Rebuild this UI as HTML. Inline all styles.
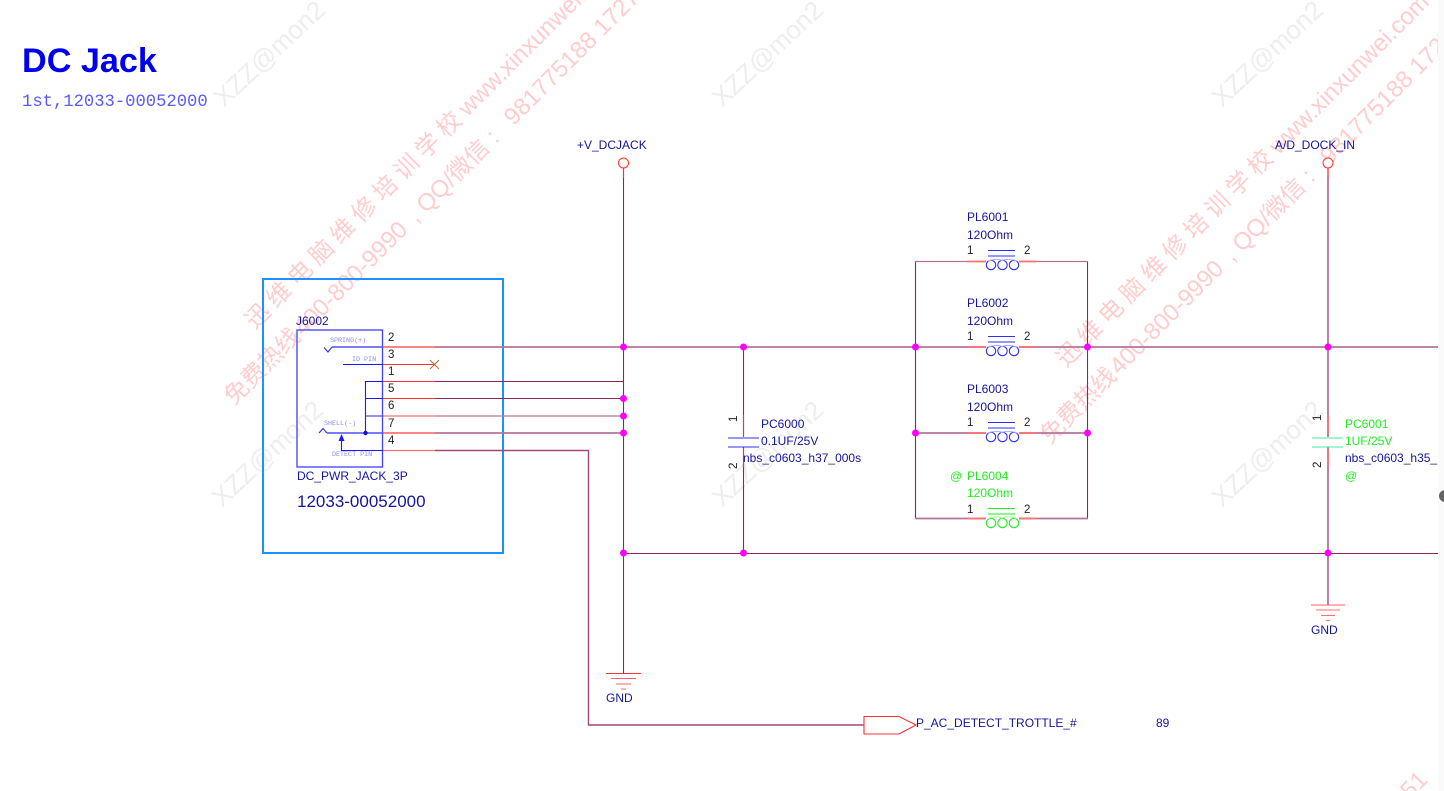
<!DOCTYPE html>
<html><head><meta charset="utf-8">
<style>
html,body{margin:0;padding:0;background:#fff;width:1444px;height:791px;overflow:hidden}
svg{display:block}
text{font-family:"Liberation Sans","Noto Sans CJK SC",sans-serif;white-space:pre}
.l{font-size:12px;fill:#14149e}
.k{font-size:11.5px;fill:#222}
.g{font-size:12px;fill:#22ee22}
.m{font-family:"Liberation Mono",monospace;font-size:6.7px;fill:#8a8aff}
.wg{font-size:26px;fill:#eeeeee}
.wr{font-size:24px;fill:#ffcdcd}
.d{stroke:#8b2560;stroke-width:1.1;fill:none}
.p{stroke:#b4749a;stroke-width:1.8;fill:none}
.r{stroke:#ff3030;stroke-width:1.1;fill:none}
.rp{stroke:#ff7272;stroke-width:1.7;fill:none}
.b{stroke:#1a1aee;stroke-width:1.1;fill:none}
.bp{stroke:#5050f5;stroke-width:1.6;fill:none}
.gr{stroke:#22ee22;stroke-width:1.1;fill:none}
.c{stroke:#2f2ff0;stroke-width:1.1;fill:none}
</style></head><body>
<svg width="1444" height="791" viewBox="0 0 1444 791" xmlns="http://www.w3.org/2000/svg">
<rect width="1444" height="791" fill="#fff"/>

<!-- grey watermarks -->
<text class="wg" transform="translate(224,108) rotate(-43)">XZZ@mon2</text>
<text class="wg" transform="translate(722,108) rotate(-43)">XZZ@mon2</text>
<text class="wg" transform="translate(1222,108) rotate(-43)">XZZ@mon2</text>
<text class="wg" transform="translate(222,508) rotate(-43)">XZZ@mon2</text>
<text class="wg" transform="translate(722,508) rotate(-43)">XZZ@mon2</text>
<text class="wg" transform="translate(1222,508) rotate(-43)">XZZ@mon2</text>

<!-- red watermarks -->
<text class="wr" style="word-spacing:-.6px" transform="translate(255,330) rotate(-45)">迅 维 电 脑 维 修 培 训 学 校 www.xinxunwei.com</text>
<text class="wr" transform="translate(234,406) rotate(-45)">免费热线<tspan dx="2">400-800-9990</tspan><tspan dx="4"> , QQ/微信 :</tspan><tspan dx="12"> 981775188 1727</tspan></text>
<text class="wr" style="word-spacing:-.6px" transform="translate(1066,368) rotate(-45)">迅 维 电 脑 维 修 培 训 学 校 www.xinxunwei.com</text>
<text class="wr" transform="translate(1050,445) rotate(-45)">免费热线<tspan dx="2">400-800-9990</tspan><tspan dx="4"> , QQ/微信 :</tspan><tspan dx="12"> 981775188 1727</tspan></text>
<text class="wr" transform="translate(1410,800) rotate(-45)">51</text>

<!-- title -->
<text x="22" y="72" style="font-size:34.2px;font-weight:bold;fill:#0000ee">DC Jack</text>
<text x="22" y="106" style="font-family:'Liberation Mono',monospace;font-size:17.2px;fill:#5a5aff">1st,12033-00052000</text>

<!-- blue frame -->
<rect x="263" y="279" width="240" height="274" fill="none" stroke="#1e90ff" stroke-width="2"/>

<!-- wires -->
<path class="p" d="M435 347H1438"/>
<path class="d" d="M435 381.500H623.500V673"/>
<path class="d" d="M435 398.500H623"/>
<path class="p" d="M435 416H623" style="stroke-width:1.3"/>
<path class="p" d="M435 433H623"/>
<path class="d" d="M435 450.500H588.500V725H864" style="stroke:#a04a7c;stroke-width:1.4"/>
<path class="d" d="M623.500 168V381"/>
<path class="d" d="M623.500 553.500H1438"/>
<path class="d" d="M743.500 347V437"/>
<path class="d" d="M743.500 447V553"/>
<path class="d" d="M915.500 261V518.500"/>
<path class="d" d="M1087.500 261V518.500"/>
<path class="p" d="M915 261.500H1088" style="stroke-width:1.3"/>
<path class="p" d="M915 433H1088"/>
<path class="p" d="M915 518.500H1088"/>
<path class="p" d="M1328 168V437"/>
<path class="p" d="M1328 447V605"/>

<!-- red pin stubs -->
<path class="rp" d="M383 347H435"/>
<path class="r" d="M383 364.500H435"/>
<path class="r" d="M383 381.500H435"/>
<path class="r" d="M383 398.500H435"/>
<path class="rp" d="M383 416H435" style="stroke-width:1.3"/>
<path class="rp" d="M383 433H435"/>
<path class="rp" d="M383 450.500H435" style="stroke-width:1.3"/>
<path d="M430 360L439 369M439 360L430 369" stroke="#b5702a" fill="none"/>

<!-- connector symbol -->
<rect x="297" y="330" width="85.500" height="137" fill="none" stroke="#4040f5" stroke-width="1.3"/>
<path class="bp" d="M332 347H383"/>
<path class="c" d="M324 347.500L328 352L332 347"/>
<path class="b" d="M343 364.500H383"/>
<path class="b" d="M383 381.500H365.500V433"/>
<path class="b" d="M365.500 398.500H383"/>
<path class="bp" d="M365.500 416H383" style="stroke-width:1.2"/>
<path class="bp" d="M327 433H383"/>
<path class="c" d="M319 433L323 428.500L327 433"/>
<path class="b" d="M383 450.500H341.500V438"/>
<path d="M341.500 434L338.500 441H344.500Z" fill="#1a1aee"/>
<circle cx="365.500" cy="433" r="2.200" fill="#1010dd"/>
<text class="m" x="330" y="342">SPRING(+)</text>
<text class="m" x="352" y="361">ID PIN</text>
<text class="m" x="324" y="425">SHELL(-)</text>
<text class="m" x="332" y="456">DETECT PIN</text>
<text class="k" x="388" y="341">2</text>
<text class="k" x="388" y="358">3</text>
<text class="k" x="388" y="375">1</text>
<text class="k" x="388" y="392">5</text>
<text class="k" x="388" y="409">6</text>
<text class="k" x="388" y="427">7</text>
<text class="k" x="388" y="444">4</text>
<text class="l" x="296" y="325">J6002</text>
<text class="l" x="297" y="480">DC_PWR_JACK_3P</text>
<text class="l" x="297" y="507" style="font-size:17px">12033-00052000</text>

<!-- power ports -->
<circle cx="623.500" cy="163" r="5" fill="#fff" stroke="#ff3030"/>
<circle cx="1328" cy="163" r="5" fill="#fff" stroke="#ff3030"/>
<path class="r" d="M623.500 168V178"/>
<path class="rp" d="M1328 168V178"/>
<text class="l" x="577" y="149">+V_DCJACK</text>
<text class="l" x="1275" y="149">A/D_DOCK_IN</text>

<!-- inductor pins -->
<path class="rp" d="M967 261.500H986M1019 261.500H1036"/>
<path class="rp" d="M967 347H986M1019 347H1036"/>
<path class="rp" d="M967 433H986M1019 433H1036"/>
<path class="rp" d="M967 518.500H986M1019 518.500H1036"/>
<!-- gaps under coils -->
<rect x="986" y="259" width="33" height="5" fill="#fff"/>
<rect x="986" y="344.500" width="33" height="5" fill="#fff"/>
<rect x="986" y="430.500" width="33" height="5" fill="#fff"/>
<rect x="986" y="516" width="33" height="5" fill="#fff"/>

<path class="c" d="M988 250.500H1015M988 256H1015"/>
<g fill="none" stroke="#3030f0" stroke-width="1.1"><circle cx="991" cy="265" r="4.700"/><circle cx="1002.500" cy="265" r="4.700"/><circle cx="1014" cy="265" r="4.700"/></g>
<path d="M988 261Q997 258 1002 260.500Q1008 258 1017 261" fill="none" stroke="#b0b0ff"/>
<path class="c" d="M988 336.500H1015M988 342H1015"/>
<g fill="none" stroke="#3030f0" stroke-width="1.1"><circle cx="991" cy="351" r="4.700"/><circle cx="1002.500" cy="351" r="4.700"/><circle cx="1014" cy="351" r="4.700"/></g>
<path d="M988 347Q997 344 1002 346.500Q1008 344 1017 347" fill="none" stroke="#b0b0ff"/>
<path class="c" d="M988 422.500H1015M988 428H1015"/>
<g fill="none" stroke="#3030f0" stroke-width="1.1"><circle cx="991" cy="437" r="4.700"/><circle cx="1002.500" cy="437" r="4.700"/><circle cx="1014" cy="437" r="4.700"/></g>
<path d="M988 433Q997 430 1002 432.500Q1008 430 1017 433" fill="none" stroke="#b0b0ff"/>
<path class="gr" d="M988 508.500H1015M988 514H1015"/>
<g fill="none" stroke="#22ee22" stroke-width="1.1"><circle cx="991" cy="523" r="4.700"/><circle cx="1002.500" cy="523" r="4.700"/><circle cx="1014" cy="523" r="4.700"/></g>
<path d="M988 518.500Q997 515.500 1002 518Q1008 515.500 1017 518.500" fill="none" stroke="#a8f5a8"/>

<text class="l" x="967" y="221">PL6001</text>
<text class="l" x="967" y="239">120Ohm</text>
<text class="k" x="967" y="254">1</text><text class="k" x="1024" y="254">2</text>
<text class="l" x="967" y="307">PL6002</text>
<text class="l" x="967" y="325">120Ohm</text>
<text class="k" x="967" y="340">1</text><text class="k" x="1024" y="340">2</text>
<text class="l" x="967" y="393">PL6003</text>
<text class="l" x="967" y="411">120Ohm</text>
<text class="k" x="967" y="426">1</text><text class="k" x="1024" y="426">2</text>
<text class="g" x="950" y="480">@</text>
<text class="g" x="967" y="480">PL6004</text>
<text class="g" x="967" y="497">120Ohm</text>
<text class="k" x="967" y="513">1</text><text class="k" x="1024" y="513">2</text>

<!-- caps -->
<path class="r" d="M743.500 415V437M743.500 448V467"/>
<path class="c" d="M728 438H759M728 447H759"/>
<text class="k" transform="translate(737,422) rotate(-90)">1</text>
<text class="k" transform="translate(737,469) rotate(-90)">2</text>
<text class="l" x="761" y="428">PC6000</text>
<text class="l" x="761" y="445">0.1UF/25V</text>
<text class="l" x="743" y="462">nbs_c0603_h37_000s</text>

<path class="rp" d="M1328 415V433M1328 450V467"/>
<path d="M1312 438H1343M1312 447H1343" stroke="#44e8a0" stroke-width="1.1" fill="none"/>
<text class="k" transform="translate(1321,421) rotate(-90)">1</text>
<text class="k" transform="translate(1321,468) rotate(-90)">2</text>
<text class="g" x="1345" y="428">PC6001</text>
<text class="g" x="1345" y="445">1UF/25V</text>
<text class="l" x="1345" y="462">nbs_c0603_h35_</text>
<text class="g" x="1345" y="480">@</text>

<!-- GND symbols -->
<path class="r" d="M606 673.500H641"/>
<path class="r" d="M611 678.500H636" style="stroke:#ff6060"/>
<path class="rp" d="M616 684H631" style="stroke-width:1.1"/>
<path class="rp" d="M621 689H626" style="stroke-width:1.1"/>
<text class="l" x="606" y="702">GND</text>
<path class="r" d="M1311 605H1345" style="stroke:#ff6060"/>
<path class="rp" d="M1316 610H1340" style="stroke-width:1.1"/>
<path class="rp" d="M1321 615.500H1335" style="stroke-width:1.1"/>
<path class="rp" d="M1326 620.500H1330" style="stroke-width:1.1"/>
<text class="l" x="1311" y="634">GND</text>

<!-- off-page port -->
<path d="M864 716.500H899L916 725L899 734H864Z" fill="#fff" stroke="#ff3030" stroke-width="1.1"/>
<text class="l" x="916" y="727">P_AC_DETECT_TROTTLE_#</text>
<text class="l" x="1156" y="727">89</text>

<!-- junctions -->
<g fill="#ff00ff">
<circle cx="623.500" cy="347" r="3.500"/><circle cx="743.500" cy="347" r="3.500"/><circle cx="915.500" cy="347" r="3.500"/>
<circle cx="1087.500" cy="347" r="3.500"/><circle cx="1328" cy="347" r="3.500"/>
<circle cx="623.500" cy="398.500" r="3.500"/><circle cx="623.500" cy="416" r="3.500"/><circle cx="623.500" cy="433" r="3.500"/>
<circle cx="915.500" cy="433" r="3.500"/><circle cx="1087.500" cy="433" r="3.500"/>
<circle cx="623.500" cy="553" r="3.500"/><circle cx="743.500" cy="553" r="3.500"/><circle cx="1328" cy="553" r="3.500"/>
</g>

<!-- right strip -->
<rect x="1438" y="0" width="6" height="791" fill="#fafafa"/>
<circle cx="1445" cy="496" r="6" fill="#666"/>
</svg>
</body></html>
